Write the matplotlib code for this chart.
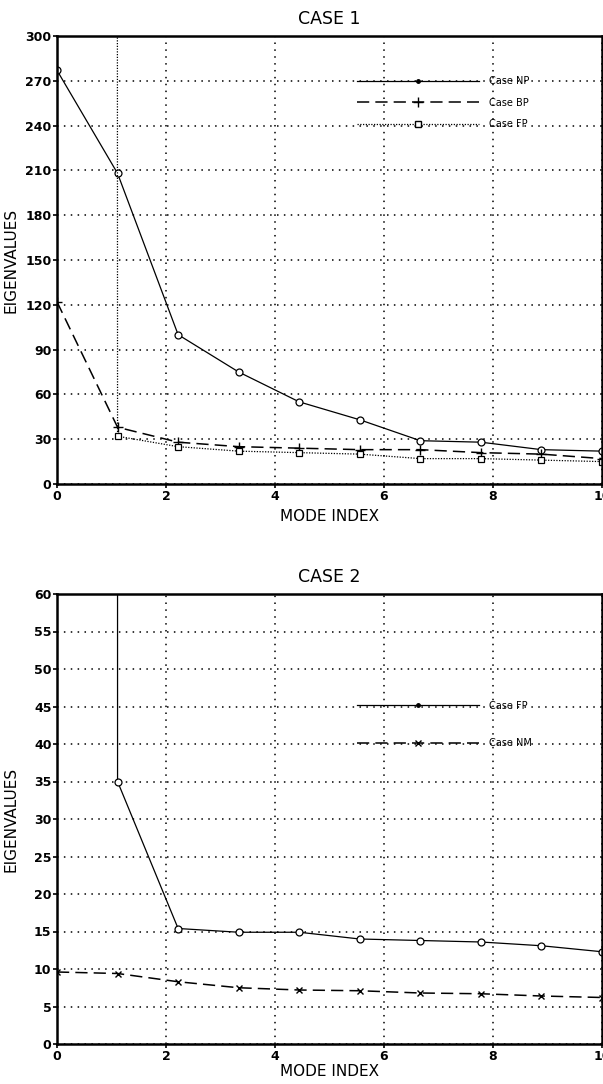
import numpy as np
import matplotlib.pyplot as plt
from matplotlib.lines import Line2D

# indice de modo (10 puntos entre 0 y 10)
mode_index = np.linspace(0, 10, 10)

# CASE 1
np_vals = [277, 208, 100, 75, 55, 43, 29, 28, 23, 22]
bp_vals = [122, 38, 28, 25, 24, 23, 23, 21, 20, 17]
fp1_vals = [1e5, 32, 25, 22, 21, 20, 17, 17, 16, 15]

# CASE 2
fp2_vals = [1e5, 35, 15.4, 14.9, 14.9, 14.0, 13.8, 13.6, 13.1, 12.3]
nm_vals = [9.6, 9.4, 8.3, 7.5, 7.2, 7.1, 6.8, 6.7, 6.4, 6.2]

x_ticks = [0, 2, 4, 6, 8, 10]
y1_ticks = np.arange(0, 301, 30)
y2_ticks = np.arange(0, 61, 5)

dash = (0, (8, 4))
dots = (0, (1, 1.2))
grid_style = (0, (1, 3.5))
tick_font = ['Liberation Sans Narrow', 'DejaVu Sans']

fig = plt.figure(figsize=(6.03, 10.84), dpi=100)
ax1 = fig.add_axes([57/603, 1-484/1084, 545/603, 448/1084])
ax2 = fig.add_axes([57/603, 1-1044/1084, 545/603, 450/1084])

def style_axes(ax, yt, ymax, title, xlab_y):
    ax.set_xlim(0, 10)
    ax.set_ylim(0, ymax)
    ax.set_xticks(x_ticks)
    ax.set_yticks(yt)
    ax.grid(True, color='black', linestyle=grid_style, linewidth=1.1)
    for s in ax.spines.values():
        s.set_linewidth(1.8)
    ax.tick_params(direction='out', length=3, width=1.2, pad=1)
    for lab in ax.get_xticklabels() + ax.get_yticklabels():
        lab.set_family(tick_font)
        lab.set_fontweight('bold')
        lab.set_fontsize(9)
    ax.set_xlabel('MODE INDEX', fontsize=11)
    ax.set_ylabel('EIGENVALUES', fontsize=11)
    ax.xaxis.set_label_coords(0.5, xlab_y)
    ax.yaxis.set_label_coords(-0.07, 0.5)
    ax.set_title(title, fontsize=12.5, pad=9)

# --- CASE 1 ---
ax1.plot(mode_index, np_vals, color='black', lw=0.9, marker='o', ms=5,
         mfc='white', mec='black', mew=0.9)
ax1.plot(mode_index, bp_vals, color='black', lw=1.1, linestyle=dash,
         marker='+', ms=7, mew=1.0)
ax1.plot(mode_index, fp1_vals, color='black', lw=0.9, linestyle=dots,
         marker='s', ms=5, mfc='white', mec='black', mew=0.9)
style_axes(ax1, y1_ticks, 300, 'CASE 1', -0.055)

h1 = [Line2D([], [], color='black', lw=0.9, marker='.', ms=5),
      Line2D([], [], color='black', lw=1.1, linestyle=dash, marker='+', ms=7),
      Line2D([], [], color='black', lw=0.9, linestyle=dots, marker='s', ms=4,
             mfc='white')]
ax1.legend(h1, ['Case NP', 'Case BP', 'Case FP'], loc='upper left',
           bbox_to_anchor=(0.535, 0.93), frameon=False, fontsize=7,
           handlelength=12.5, handletextpad=1.0, labelspacing=1.2,
           numpoints=1)

# --- CASE 2 ---
ax2.plot(mode_index, fp2_vals, color='black', lw=0.9, marker='o', ms=5,
         mfc='white', mec='black', mew=0.9)
ax2.plot(mode_index, nm_vals, color='black', lw=1.1, linestyle=dash,
         marker='x', ms=4.5, mew=1.0)
style_axes(ax2, y2_ticks, 60, 'CASE 2', -0.045)

h2 = [Line2D([], [], color='black', lw=0.9, marker='.', ms=5),
      Line2D([], [], color='black', lw=1.1, linestyle=dash, marker='x', ms=4.5)]
ax2.legend(h2, ['Case FP', 'Case NM'], loc='upper left',
           bbox_to_anchor=(0.535, 0.782), frameon=False, fontsize=7,
           handlelength=12.5, handletextpad=1.0, labelspacing=2.8,
           numpoints=1)

plt.savefig('out.png', dpi=100)
